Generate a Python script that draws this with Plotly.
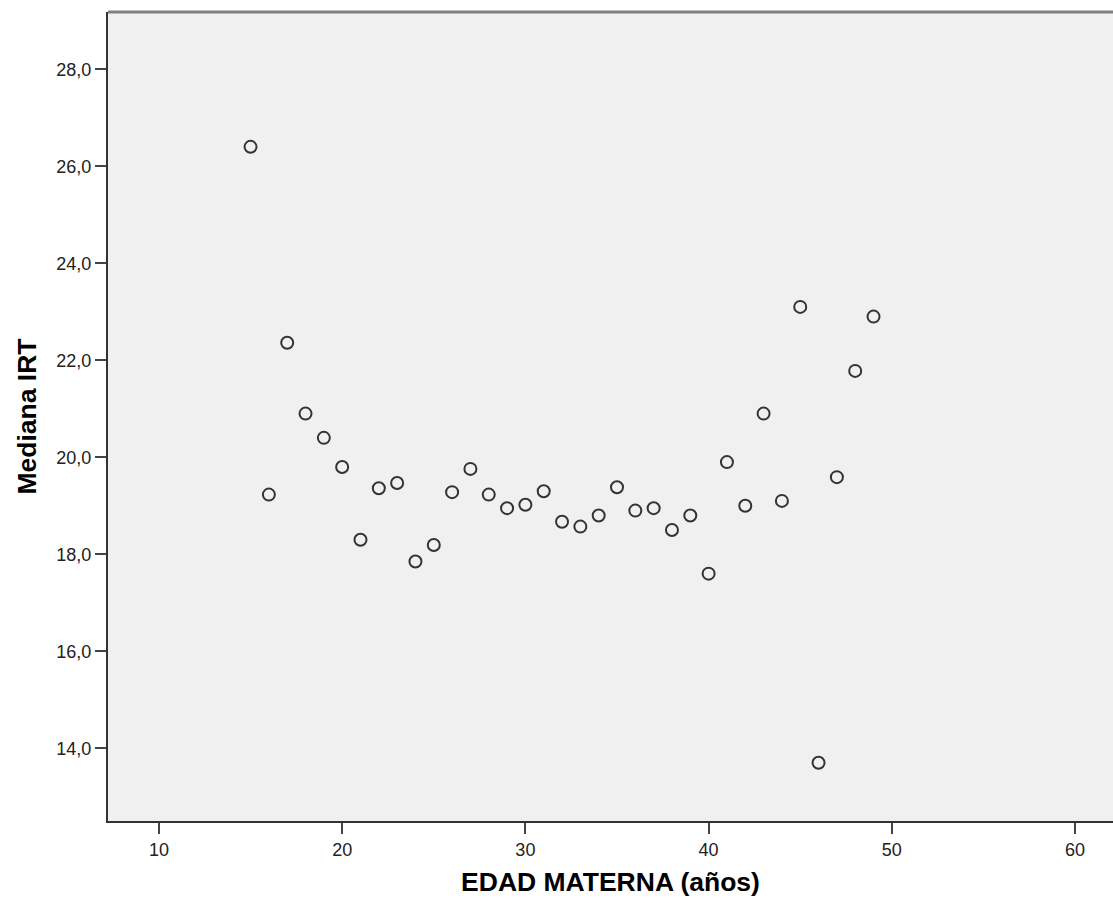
import plotly.graph_objects as go

# Maternal age (years) and median IRT per age
edad = [15, 16, 17, 18, 19, 20, 21, 22, 23, 24, 25, 26, 27, 28, 29, 30, 31, 32,
        33, 34, 35, 36, 37, 38, 39, 40, 41, 42, 43, 44, 45, 46, 47, 48, 49]
mediana_irt = [26.40, 19.23, 22.36, 20.90, 20.40, 19.80, 18.30, 19.36, 19.47,
               17.85, 18.19, 19.28, 19.76, 19.23, 18.95, 19.02, 19.30, 18.67,
               18.57, 18.80, 19.38, 18.90, 18.95, 18.50, 18.80, 17.60, 19.90,
               19.00, 20.90, 19.10, 23.10, 13.70, 19.59, 21.78, 22.90]

x_ticks = [10, 20, 30, 40, 50, 60]
y_ticks = [14, 16, 18, 20, 22, 24, 26, 28]

fig = go.Figure(
    go.Scatter(
        x=edad,
        y=mediana_irt,
        mode="markers",
        marker=dict(
            symbol="circle-open",
            size=12,
            color="#333333",
            line=dict(width=2, color="#333333"),
        ),
        showlegend=False,
        hoverinfo="x+y",
    )
)

axis_font = dict(family="Liberation Sans, Arial, sans-serif", size=18, color="#222222")
title_font = dict(family="Liberation Sans, Arial, sans-serif", size=26.5,
                  color="#000000", weight="bold")

fig.update_layout(
    width=1113,
    height=903,
    margin=dict(l=108, r=0, t=12, b=82),
    paper_bgcolor="#ffffff",
    plot_bgcolor="#f0f0f0",
    separators=",.",
    xaxis=dict(
        range=[7.22, 62.07],
        tickvals=x_ticks,
        ticks="outside",
        ticklen=11,
        tickwidth=2,
        tickcolor="#444444",
        showgrid=False,
        zeroline=False,
        showline=True,
        linecolor="#333333",
        linewidth=2,
        tickfont=axis_font,
        title=dict(text="EDAD MATERNA (años)", font=title_font, standoff=14),
    ),
    yaxis=dict(
        range=[12.5, 29.18],
        tickvals=y_ticks,
        tickformat=".1f",
        ticks="outside",
        ticklen=11,
        tickwidth=2,
        tickcolor="#444444",
        showgrid=False,
        zeroline=False,
        showline=True,
        linecolor="#333333",
        linewidth=2,
        tickfont=axis_font,
        title=dict(text="Mediana IRT", font=title_font, standoff=12),
    ),
    shapes=[
        dict(
            type="line", xref="paper", yref="paper",
            x0=0, x1=1, y0=1, y1=1,
            line=dict(color="#808080", width=3),
        )
    ],
)

fig.write_html("out.html")
